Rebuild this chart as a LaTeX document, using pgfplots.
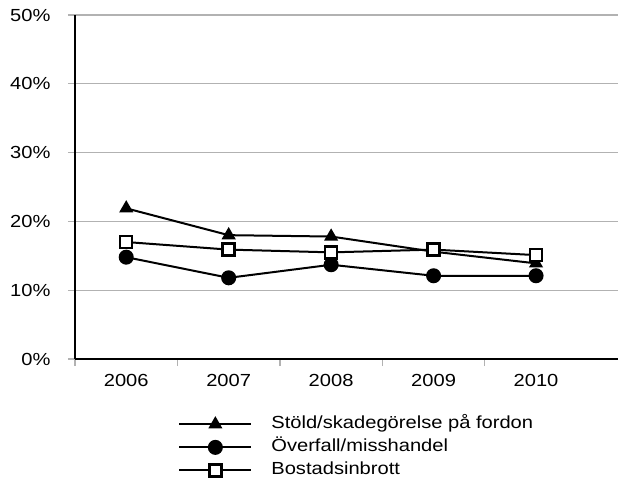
\documentclass[border=0pt]{standalone}
\usepackage{fontspec}
\setmainfont{Liberation Sans}[FakeStretch=1.15]
\usepackage{pgfplots}
\pgfplotsset{compat=1.18}
\begin{document}
\begin{tikzpicture}
\begin{axis}[
  at={(0,0)}, anchor=south west,
  scale only axis, width=543bp, height=344bp,
  xmin=-0.5, xmax=4.8, ymin=0, ymax=50,
  axis lines=left, axis line style={black, line width=1.2bp, -},
  xtick={0,1,2,3,4}, xticklabels={2006,2007,2008,2009,2010},
  minor xtick={-0.5,0.5,1.5,2.5,3.5},
  ytick={0,10,20,30,40,50}, yticklabels={0\%,10\%,20\%,30\%,40\%,50\%},
  ymajorgrids, major grid style={draw=black!30, line width=1.3bp},
  tick align=outside,
  major tick length=7bp, minor tick length=7bp,
  major x tick style={draw=none},
  minor x tick style={draw=black!30, line width=1.3bp},
  major y tick style={draw=black!30, line width=1.3bp},
  ticklabel style={font=\fontsize{17.5bp}{21bp}\selectfont},
  yticklabel style={xshift=-14bp},
  xticklabel style={yshift=-5bp},
  legend style={at={(axis description cs:0.19,-0.156)}, anchor=north west, draw=none, fill=none, inner sep=0pt,
    font=\fontsize{17.5bp}{21bp}\selectfont,
    nodes={inner ysep=3bp, text height=13bp, text depth=4bp},
    /tikz/every odd column/.append style={column sep=17bp}},
  legend cell align=left,
  legend image code/.code={\draw[#1, mark repeat=2, mark phase=2] plot coordinates {(0bp,0bp)(36bp,0bp)(72bp,0bp)};},
]
\addplot[black, line width=2bp, mark=triangle*, mark size=6.2bp, mark options={solid, fill=black}] coordinates {(0,21.9)(1,18.0)(2,17.8)(3,15.6)(4,13.9)};
\addlegendentry{Stöld/skadegörelse på fordon}
\addplot[black, line width=2bp, mark=*, mark size=6.5bp, mark options={solid, fill=black}] coordinates {(0,14.8)(1,11.8)(2,13.7)(3,12.1)(4,12.1)};
\addlegendentry{Överfall/misshandel}
\addplot[black, line width=2bp, mark=square*, mark size=6bp, mark options={solid, fill=white, line width=2.5bp}] coordinates {(0,17.0)(1,15.9)(2,15.5)(3,15.9)(4,15.1)};
\addlegendentry{Bostadsinbrott}
\end{axis}
\pgfresetboundingbox
\path[use as bounding box] (-75bp,-125bp) rectangle (543bp,359bp);
\end{tikzpicture}
\end{document}
